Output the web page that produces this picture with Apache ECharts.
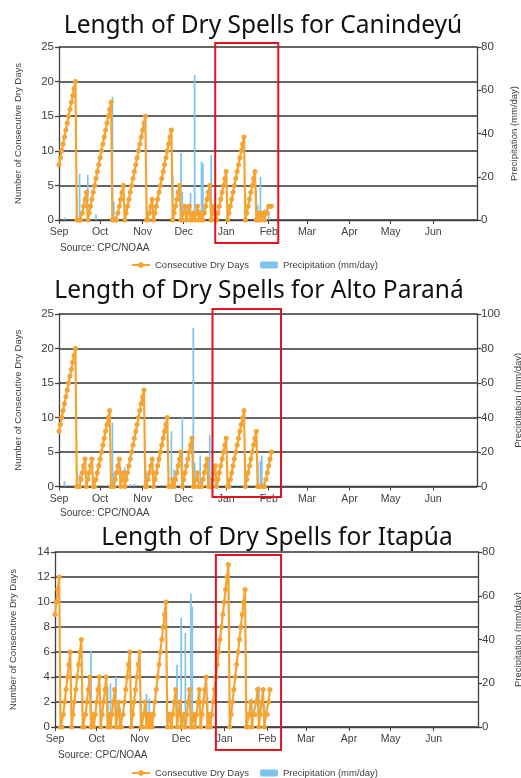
<!DOCTYPE html>
<html>
<head>
<meta charset="utf-8">
<script src="https://cdn.jsdelivr.net/npm/echarts@6/dist/echarts.min.js"></script>
<style>
  html, body { margin: 0; padding: 0; background: #ffffff; }
  #chart { width: 521px; height: 778px; }
</style>
</head>
<body>
<div id="chart"></div>
<script>
// ---- Data -------------------------------------------------------------

// Daily categories for the season axis (1 Sep 2025 .. 3 Jul 2026)
const seasonDays = [];
for (let t = Date.UTC(2025, 8, 1); t <= Date.UTC(2026, 6, 3); t += 86400000) {
  seasonDays.push(new Date(t).toISOString().slice(0, 10));
}
const monthNames = ['Jan', 'Feb', 'Mar', 'Apr', 'May', 'Jun', 'Jul', 'Aug', 'Sep', 'Oct', 'Nov', 'Dec'];
const labelledMonths = ['Sep', 'Oct', 'Nov', 'Dec', 'Jan', 'Feb', 'Mar', 'Apr', 'May', 'Jun'];

const regions = ['Canindeyú', 'Alto Paraná', 'Itapúa'];

// Consecutive dry days, one value per day from 1 Sep 2025
const cddCanindeyu = [
  8, 9, 10, 11, 12, 13, 14, 15, 16, 17, 18, 19, 20,
  0, 0, 0, 0,
  1, 2, 3, 4,
  0,
  1, 2, 3, 4, 5, 6, 7, 8, 9, 10, 11, 12, 13, 14, 15, 16, 17,
  0, 0, 0, 0,
  1, 2, 3, 4, 5,
  0,
  1, 2, 3, 4, 5, 6, 7, 8, 9, 10, 11, 12, 13, 14, 15,
  0, 0, 1, 2, 3, 0,
  1, 2, 3, 4, 5, 6, 7, 8, 9, 10, 11, 12, 13,
  0,
  1, 2, 3, 4, 5,
  0, 0, 1, 2, 0, 1, 2, 0, 0, 1, 0, 1, 2, 0, 1, 0, 0,
  1, 2, 3, 4, 5,
  0, 1, 2, 0, 0,
  1, 2, 3, 4, 5, 6, 7,
  0,
  1, 2, 3, 4, 5, 6, 7, 8, 9, 10, 11, 12,
  0,
  1, 2, 3, 4, 5, 6, 7,
  0, 0, 1, 0, 1, 1, 0, 1, 1, 2, 2, 2
];
const cddAltoParana = [
  8, 9, 10, 11, 12, 13, 14, 15, 16, 17, 18, 19, 20,
  0, 0, 0,
  1, 2, 3, 4,
  0,
  1, 2, 3, 4,
  0, 0,
  1, 2, 3, 4, 5, 6, 7, 8, 9, 10, 11,
  0, 0, 0,
  1, 2, 3, 4,
  0, 1, 2, 0,
  1, 2, 3, 4, 5, 6, 7, 8, 9, 10, 11, 12, 13, 14,
  0, 0,
  1, 2, 3, 4,
  0,
  1, 2, 3, 4, 5, 6, 7, 8, 9, 10,
  0, 0, 0, 1, 0,
  1, 2, 3, 4, 5,
  0,
  1, 2, 3, 4, 5, 6, 7,
  0, 0, 1, 2, 0, 0, 0, 1, 2, 3, 4, 0, 0, 0, 1, 2, 3, 0,
  1, 2, 3, 4, 5, 6, 7,
  0, 0,
  1, 2, 3, 4, 5, 6, 7, 8, 9, 10, 11,
  0,
  1, 2, 3, 4, 5, 6, 7, 8,
  0, 0, 0, 0, 0, 0,
  1, 2, 3, 4, 5
];
const cddItapua = [
  9, 10, 11, 12,
  0, 0,
  1, 2, 3, 4, 5, 6,
  0,
  1, 2, 3, 4, 5, 6, 7,
  0, 0,
  1, 2, 3, 4,
  0, 1, 0,
  1, 2, 3, 4,
  0,
  1, 2, 3, 4,
  0, 1, 0, 1, 2, 3, 0, 1, 2, 0, 0,
  1, 2, 3, 4, 5, 6,
  0,
  1, 2, 3, 4, 5, 6,
  0, 0, 1, 2, 0, 1, 0, 1, 0,
  1, 2, 3, 4, 5, 6, 7, 8, 9, 10,
  0, 1, 1, 0, 1, 2, 3,
  0, 1, 2, 0, 0, 1, 0, 1, 2, 3,
  0, 0, 1, 0, 1, 2, 3,
  0, 1, 2, 3, 4,
  0, 1, 0,
  1, 2, 3, 4, 5, 6, 7, 8, 9, 10, 11, 12, 13,
  0,
  1, 2, 3, 4, 5, 6, 7, 8, 9, 10, 11,
  0, 0, 1, 2, 0, 1, 1, 2, 3, 0, 1, 2, 3, 0, 1, 1, 2, 3
];

// Daily precipitation (mm/day) on wet days
const rainCanindeyu = [
  ['2025-09-05', 1.2], ['2025-09-14', 11], ['2025-09-16', 21.5], ['2025-09-22', 20.8],
  ['2025-09-28', 2.5], ['2025-10-10', 57], ['2025-10-11', 8.5], ['2025-10-13', 2],
  ['2025-10-19', 3], ['2025-11-04', 6], ['2025-11-05', 2.5], ['2025-11-09', 3],
  ['2025-11-23', 20], ['2025-11-29', 31], ['2025-11-30', 13], ['2025-12-03', 7],
  ['2025-12-06', 12.5], ['2025-12-07', 3.5], ['2025-12-09', 67], ['2025-12-12', 5],
  ['2025-12-14', 27], ['2025-12-15', 26], ['2025-12-21', 30], ['2025-12-24', 6],
  ['2025-12-25', 3], ['2026-01-02', 2], ['2026-01-15', 1.5], ['2026-01-23', 14],
  ['2026-01-24', 7], ['2026-01-26', 20], ['2026-01-29', 5], ['2026-02-01', 3]
];
const rainAltoParana = [
  ['2025-09-05', 3], ['2025-09-14', 12], ['2025-09-16', 7], ['2025-09-21', 8],
  ['2025-09-26', 3], ['2025-10-09', 6], ['2025-10-10', 37], ['2025-10-11', 8],
  ['2025-10-16', 11], ['2025-10-19', 11], ['2025-10-23', 1.5], ['2025-10-26', 1.5],
  ['2025-11-03', 15], ['2025-11-04', 8], ['2025-11-09', 3], ['2025-11-22', 32],
  ['2025-11-24', 10], ['2025-11-30', 40], ['2025-12-08', 92], ['2025-12-09', 14],
  ['2025-12-13', 18], ['2025-12-14', 4], ['2025-12-19', 17], ['2025-12-20', 30],
  ['2025-12-25', 3], ['2026-01-02', 4], ['2026-01-03', 2], ['2026-01-15', 3],
  ['2026-01-24', 14], ['2026-01-26', 15], ['2026-01-27', 18], ['2026-01-29', 3]
];
const rainItapua = [
  ['2025-09-13', 2], ['2025-09-27', 35], ['2025-10-04', 3], ['2025-10-09', 18.6],
  ['2025-10-11', 20], ['2025-10-15', 23], ['2025-10-18', 9], ['2025-10-26', 3],
  ['2025-11-02', 12], ['2025-11-03', 7], ['2025-11-06', 15], ['2025-11-08', 13],
  ['2025-11-10', 3], ['2025-11-21', 4], ['2025-11-24', 6], ['2025-11-28', 28.5],
  ['2025-12-01', 50], ['2025-12-02', 5], ['2025-12-04', 43], ['2025-12-08', 61],
  ['2025-12-09', 55], ['2025-12-11', 4], ['2025-12-15', 4], ['2025-12-20', 14],
  ['2025-12-22', 3], ['2026-01-05', 3], ['2026-01-17', 3], ['2026-01-21', 13],
  ['2026-01-26', 18.6], ['2026-01-30', 10]
];

// Axis ranges: [max, step] for dry days (left) and precipitation (right)
const cddAxis = [[25, 5], [25, 5], [14, 2]];
const rainAxis = [[80, 20], [100, 20], [80, 20]];

// Highlighted period on each panel
const focusWindow = [['2025-12-24', '2026-02-08'], ['2025-12-22', '2026-02-10'], ['2025-12-26', '2026-02-11']];

const cddSeries = [cddCanindeyu, cddAltoParana, cddItapua];
const rainSeries = [rainCanindeyu, rainAltoParana, rainItapua];

// ---- Layout & styles ---------------------------------------------------
const INK = '#404040';
const ORANGE = '#F6A431';
const BLUE = '#7DC4F0';
const LABEL_FONT = '"Liberation Sans", Arial, sans-serif';
const TITLE_FONT = '"Noto Sans", sans-serif';
const NAME_CDD = 'Consecutive Dry Days';
const NAME_RAIN = 'Precipitation (mm/day)';

const grids = [
  { left: 59, right: 44, top: 47, height: 173 },
  { left: 59, right: 44, top: 314, height: 172.5 },
  { left: 55, right: 43, top: 552, height: 175 }
];
const titlePos = [[263, 26.5], [259, 291.5], [277, 538.5]];
const sourcePos = [[60, 248], [60, 513], [58, 755]];
const leftNameGap = [36, 36, 37];
const rightNameGap = [32, 36, 35];
const boxPad = [[4, 23], [5, 10.5], [-3, 23]];

const isMonthStart = (i, v) => v.slice(8) === '01' && labelledMonths.includes(monthNames[+v.slice(5, 7) - 1]);

const xAxes = [], yAxes = [], series = [];
grids.forEach((g, i) => {
  xAxes.push({
    type: 'category', gridIndex: i, data: seasonDays, boundaryGap: false,
    axisLine: { lineStyle: { color: INK, width: 1.3 } },
    axisTick: { interval: isMonthStart, length: 4, lineStyle: { color: INK, width: 1 } },
    axisLabel: {
      interval: isMonthStart, margin: 7, fontSize: 10.5, color: INK, fontFamily: LABEL_FONT,
      formatter: v => monthNames[+v.slice(5, 7) - 1]
    },
    splitLine: { show: false }
  });
  yAxes.push({
    type: 'value', gridIndex: i, position: 'left', min: 0, max: cddAxis[i][0], interval: cddAxis[i][1],
    name: 'Number of Consecutive Dry Days', nameLocation: 'middle', nameRotate: 90, nameGap: leftNameGap[i],
    nameTextStyle: { fontSize: 9.5, color: INK, fontFamily: LABEL_FONT },
    axisLine: { show: true, lineStyle: { color: INK, width: 1.3 } },
    axisTick: { show: true, length: 4, lineStyle: { color: INK, width: 1.3 } },
    axisLabel: { margin: 5, fontSize: 11.5, color: INK, fontFamily: LABEL_FONT },
    splitLine: { show: true, lineStyle: { color: '#333333', width: 1.5 } }
  });
  yAxes.push({
    type: 'value', gridIndex: i, position: 'right', min: 0, max: rainAxis[i][0], interval: rainAxis[i][1],
    name: NAME_RAIN, nameLocation: 'middle', nameRotate: 90, nameGap: rightNameGap[i],
    nameTextStyle: { fontSize: 9.5, color: INK, fontFamily: LABEL_FONT },
    axisLine: { show: true, lineStyle: { color: INK, width: 1.3 } },
    axisTick: { show: true, length: 4, lineStyle: { color: INK, width: 1.3 } },
    axisLabel: { margin: 4, fontSize: 11.5, color: INK, fontFamily: LABEL_FONT },
    splitLine: { show: false }
  });
  series.push({
    name: NAME_RAIN, type: 'bar', xAxisIndex: i, yAxisIndex: 2 * i + 1,
    data: rainSeries[i], barWidth: 1.7, itemStyle: { color: BLUE }, z: 2
  });
  series.push({
    name: NAME_CDD, type: 'line', xAxisIndex: i, yAxisIndex: 2 * i,
    data: cddSeries[i], symbol: 'circle', symbolSize: 5, showAllSymbol: true,
    lineStyle: { color: ORANGE, width: 2.2 }, itemStyle: { color: ORANGE }, z: 3
  });
});

const legendBase = {
  data: [NAME_CDD, NAME_RAIN], left: 126, itemWidth: 18, itemHeight: 7, itemGap: 11,
  textStyle: { fontSize: 9.5, color: INK, fontFamily: LABEL_FONT }
};

const chart = echarts.init(document.getElementById('chart'), null, { renderer: 'canvas' });
chart.setOption({
  backgroundColor: '#ffffff',
  animation: false,
  grid: grids.map(g => Object.assign({ outerBoundsMode: 'none' }, g)),
  xAxis: xAxes,
  yAxis: yAxes,
  legend: [Object.assign({ top: 255 }, legendBase), Object.assign({ top: 763 }, legendBase)],
  series: series
});

// Titles, source notes and highlighted windows
const graphics = [];
regions.forEach((r, i) => {
  graphics.push({
    type: 'text', x: titlePos[i][0], y: titlePos[i][1],
    style: { text: 'Length of Dry Spells for ' + r, fill: '#111111', font: '24.5px ' + TITLE_FONT, textAlign: 'center', textVerticalAlign: 'middle' }
  });
  graphics.push({
    type: 'text', x: sourcePos[i][0], y: sourcePos[i][1],
    style: { text: 'Source: CPC/NOAA', fill: INK, font: '10px ' + LABEL_FONT, textAlign: 'left', textVerticalAlign: 'middle' }
  });
  const x0 = chart.convertToPixel({ xAxisIndex: i }, focusWindow[i][0]);
  const x1 = chart.convertToPixel({ xAxisIndex: i }, focusWindow[i][1]);
  const yTop = chart.convertToPixel({ yAxisIndex: 2 * i }, cddAxis[i][0]);
  const yBot = chart.convertToPixel({ yAxisIndex: 2 * i }, 0);
  graphics.push({
    type: 'rect', z: 100,
    shape: { x: x0, y: yTop - boxPad[i][0], width: x1 - x0, height: (yBot + boxPad[i][1]) - (yTop - boxPad[i][0]) },
    style: { fill: 'none', stroke: '#E3131B', lineWidth: 2 }
  });
});
chart.setOption({ graphic: graphics });
</script>
</body>
</html>
